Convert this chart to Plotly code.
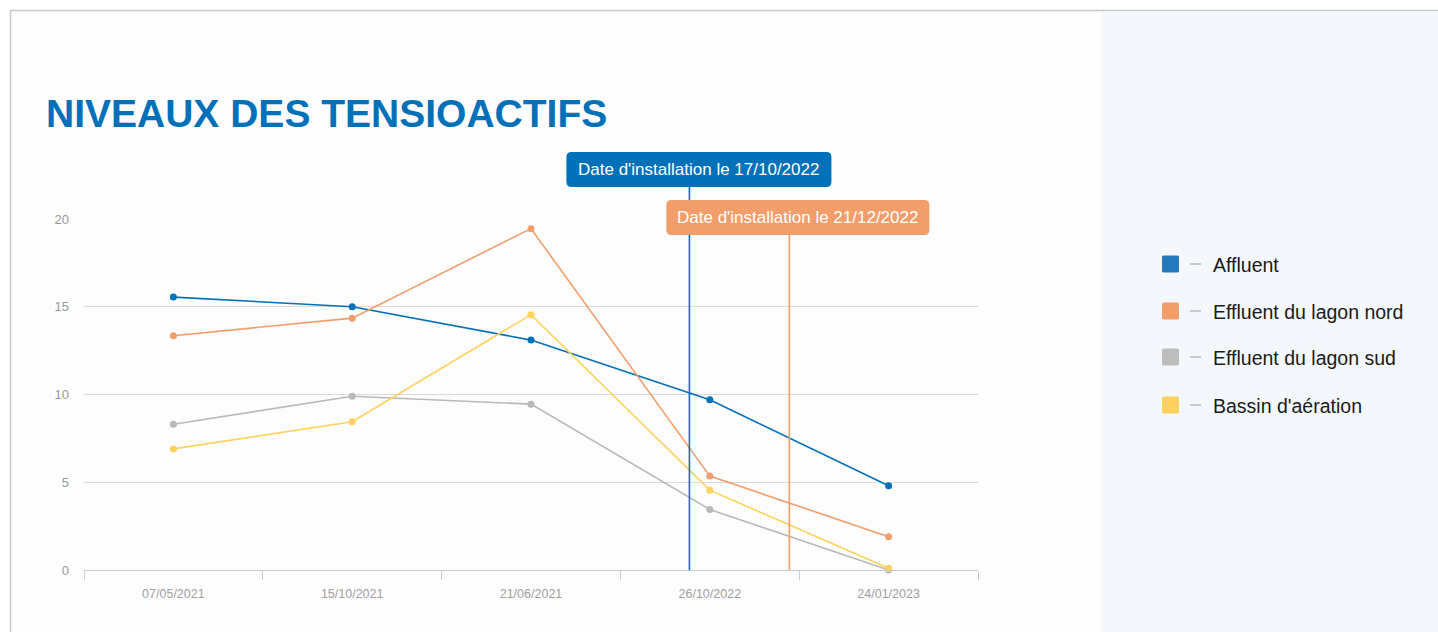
import plotly.graph_objects as go

# ---- data ----
dates = ["07/05/2021", "15/10/2021", "21/06/2021", "26/10/2022", "24/01/2023"]
series_names = ["Affluent", "Effluent du lagon nord", "Effluent du lagon sud", "Bassin d'aération"]
affluent = [15.55, 15.0, 13.1, 9.7, 4.8]
lagon_nord = [13.35, 14.35, 19.45, 5.35, 1.9]
lagon_sud = [8.3, 9.9, 9.45, 3.45, 0.0]
bassin = [6.9, 8.45, 14.55, 4.55, 0.1]
y_ticks = [0, 5, 10, 15, 20]

install_labels = ["Date d'installation le 17/10/2022", "Date d'installation le 21/12/2022"]
install_pos = [2.886, 3.445]  # position on the category scale

# ---- style ----
W, H = 1438, 632
L, R, T, B = 84, 978, 219, 570
colors = ["#0070B8", "#F19E6B", "#B9B9B9", "#FDD25C"]
legend_colors = ["#2479BD", "#F19E6B", "#BDBDBD", "#FDD25C"]
install_colors = ["#0070B8", "#F19E6B"]
FONT = "Liberation Sans, Arial, sans-serif"


def px2x(px):
    return (px - L) / (R - L)


def px2y(py):
    return (B - py) / (B - T)


fig = go.Figure()
for name, vals, c in zip(series_names, [affluent, lagon_nord, lagon_sud, bassin], colors):
    fig.add_trace(go.Scatter(
        x=dates, y=vals, name=name, mode="lines+markers",
        line=dict(color=c, width=1.6), marker=dict(color=c, size=7),
        cliponaxis=False, showlegend=False, hoverinfo="skip",
    ))

shapes = []
annotations = []

# page frame and side panel
shapes.append(dict(type="rect", xref="paper", yref="paper", layer="below",
                   x0=px2x(10.5), x1=px2x(1445), y0=px2y(10.5), y1=px2y(640),
                   fillcolor="#FDFDFD", line=dict(color="#C8C8C8", width=1.5)))
shapes.append(dict(type="rect", xref="paper", yref="paper", layer="below",
                   x0=px2x(1102), x1=px2x(1445), y0=px2y(11.5), y1=px2y(640),
                   fillcolor="#F4F8FC", line=dict(width=0)))

# title
annotations.append(dict(text="<b>NIVEAUX DES TENSIOACTIFS</b>", xref="paper", yref="paper",
                        x=px2x(44), y=px2y(114), xanchor="left", yanchor="middle",
                        showarrow=False, font=dict(family=FONT, size=39, color="#0070B8")))


def rounded_rect(x0, x1, y0, y1, r):
    return (f"M {x0+r},{y0} L {x1-r},{y0} Q {x1},{y0} {x1},{y0+r} L {x1},{y1-r} "
            f"Q {x1},{y1} {x1-r},{y1} L {x0+r},{y1} Q {x0},{y1} {x0},{y1-r} "
            f"L {x0},{y0+r} Q {x0},{y0} {x0+r},{y0} Z")


# installation markers
box_tops = [152, 200]
box_h = 35
box_w = [265, 263]
for lab, pos, c, top, bw in zip(install_labels, install_pos, install_colors, box_tops, box_w):
    bottom = top + box_h
    shapes.append(dict(type="line", xref="x", yref="paper", x0=pos, x1=pos,
                       y0=0, y1=px2y(bottom), line=dict(color=c, width=1.6)))
    shapes.append(dict(type="path", xref="x", yref="paper", xsizemode="pixel", ysizemode="pixel",
                       xanchor=pos, yanchor=0,
                       path=rounded_rect(-123, -123 + bw, B - bottom, B - top, 5),
                       fillcolor=c, line=dict(width=0)))
    annotations.append(dict(text=lab, xref="x", yref="paper", x=pos, xshift=-123 + bw / 2,
                            y=px2y(top + box_h / 2), xanchor="center", yanchor="middle",
                            showarrow=False, font=dict(family=FONT, size=17, color="#FFFFFF")))

# custom legend
leg_y = [264, 311, 357, 405]
for name, c, yy in zip(series_names, legend_colors, leg_y):
    shapes.append(dict(type="path", xref="paper", yref="paper",
                       path=rounded_rect(px2x(1162), px2x(1179), px2y(yy + 8.5), px2y(yy - 8.5), 0.003),
                       fillcolor=c, line=dict(width=0)))
    shapes.append(dict(type="line", xref="paper", yref="paper",
                       x0=px2x(1190), x1=px2x(1201), y0=px2y(yy), y1=px2y(yy),
                       line=dict(color="#BBBBBB", width=1.5)))
    annotations.append(dict(text=name, xref="paper", yref="paper", x=px2x(1211), y=px2y(yy + 1),
                            xanchor="left", yanchor="middle", showarrow=False,
                            font=dict(family=FONT, size=19.5, color="#1A1A1A")))

fig.update_layout(
    width=W, height=H,
    margin=dict(l=L, r=W - R, t=T, b=H - B, pad=0),
    paper_bgcolor="#FFFFFF", plot_bgcolor="rgba(0,0,0,0)",
    font=dict(family=FONT),
    shapes=shapes, annotations=annotations,
    hovermode=False,
    xaxis=dict(type="category", categoryorder="array", categoryarray=dates,
               range=[-0.5, len(dates) - 0.5], tickson="boundaries",
               ticks="outside", ticklen=9, tickcolor="#CCCCCC", tickwidth=1,
               showline=True, linecolor="#CCCCCC", linewidth=1, showgrid=False,
               ticklabelstandoff=12,
               tickfont=dict(size=12.5, color="#A0A0A0", family=FONT), fixedrange=True),
    yaxis=dict(range=[0, 20], tickvals=y_ticks, showgrid=True, gridcolor="#DADADA", gridwidth=1,
               zeroline=False, showline=False, ticks="", ticklabelstandoff=14,
               tickfont=dict(size=13, color="#999999", family=FONT), fixedrange=True),
)

fig.write_html("out.html", config={"displayModeBar": False})
